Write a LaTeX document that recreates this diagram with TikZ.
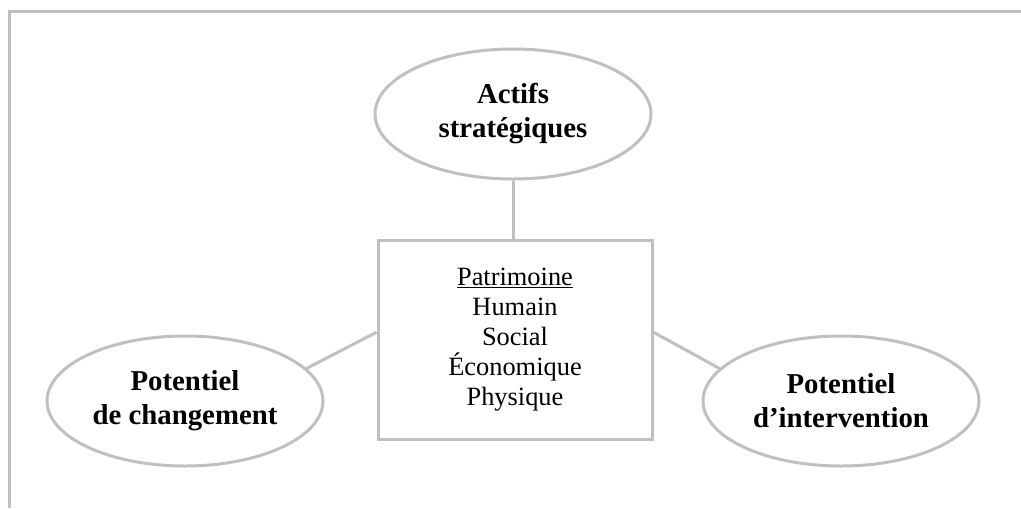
\documentclass[tikz,border=0pt]{standalone}
\usepackage{fontspec}
\setmainfont{Liberation Serif}
\usetikzlibrary{shapes.geometric}
\definecolor{framegray}{HTML}{C0C0C0}

\begin{document}
\begin{tikzpicture}[x=0.75pt,y=-0.75pt,line cap=butt,
    grayline/.style={draw=framegray, line width=2.25pt},
    bubble/.style={grayline, ellipse, minimum width=207pt, minimum height=97.5pt,
        inner sep=0pt, align=center, font=\bfseries\fontsize{21.6}{25.5}\selectfont},
    hub/.style={grayline, rectangle, minimum width=205.5pt, minimum height=149.25pt,
        inner sep=0pt, align=center, font=\fontsize{19.8}{22.6}\selectfont}]
            \useasboundingbox (0,0) rectangle (1021,508);

            % draw the frame
            \draw[grayline] (9.5,508) -- (9.5,11) -- (1021,11);

            % centre box
            \node[hub] (patrimoine) at (515,339.5)
                {\underline{Patrimoine}\\Humain\\Social\\Économique\\Physique};

            % the three ellipses
            \node[bubble] (actifs) at (513,114) {Actifs\\stratégiques};
            \node[bubble] (changement) at (185,401) {Potentiel\\de changement};
            \node[bubble] (intervention) at (841,401) {Potentiel\\d’intervention};

            % connect them to the box
            \draw[grayline] (actifs.south) -- (actifs.south |- patrimoine.north);
            \draw[grayline] (changement.15) -- (patrimoine.177);
            \draw[grayline] (intervention.165) -- (patrimoine.3);
        \end{tikzpicture}
\end{document}
